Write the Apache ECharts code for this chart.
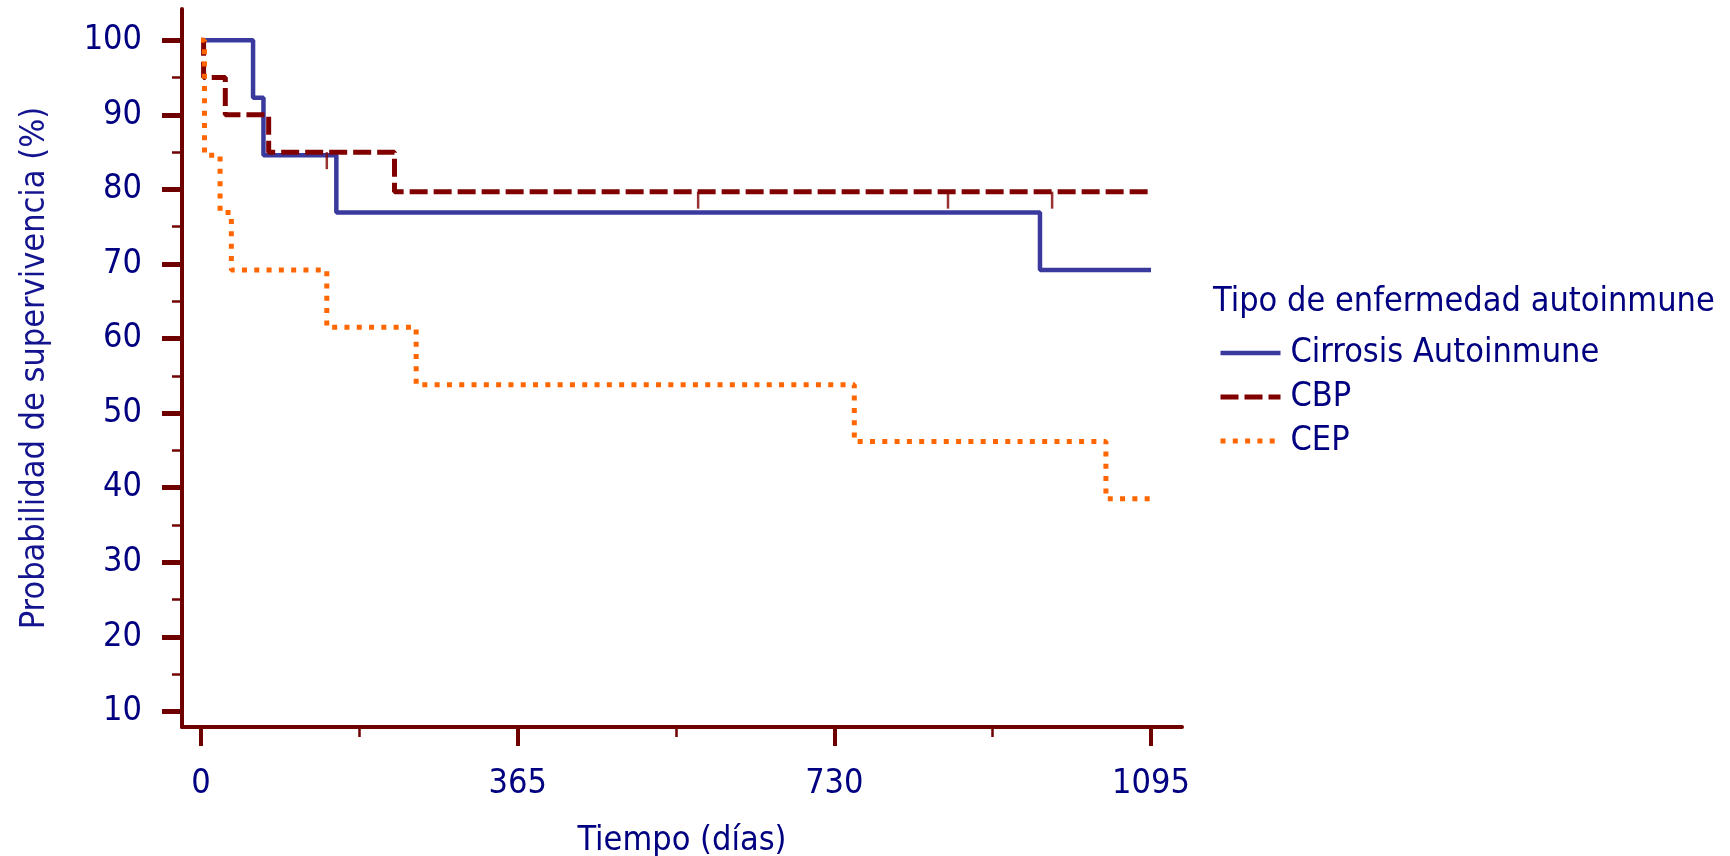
<!DOCTYPE html>
<html><head><meta charset="utf-8">
<script src="https://cdn.jsdelivr.net/npm/echarts@6/dist/echarts.min.js"></script>
<style>html,body{margin:0;padding:0;background:#fff}#c{width:1730px;height:856px}</style>
</head><body><div id="c"></div>
<script>
const seriesNames = ['Cirrosis Autoinmune', 'CBP', 'CEP'];
const cirrosisTimes = [0, 60, 72, 156, 967, 1095];
const cirrosisSurv = [100, 92.3, 84.6, 76.9, 69.2, 69.2];
const cbpTimes = [0, 3, 28, 78, 223, 1095];
const cbpSurv = [100, 95, 90, 85, 79.7, 79.7];
const cepTimes = [0, 4, 22, 35, 145, 248, 753, 1043, 1095];
const cepSurv = [100, 84.6, 76.9, 69.2, 61.5, 53.8, 46.2, 38.5, 38.5];
const cbpCensorTimes = [145, 573, 861, 981];
const cbpCensorSurv = [85, 79.7, 79.7, 79.7];
const xTickValues = [0, 365, 730, 1095];
const xMinorTickValues = [182.5, 547.5, 912.5];
const yTickValues = [10, 20, 30, 40, 50, 60, 70, 80, 90, 100];
const yMinorTickValues = [15, 25, 35, 45, 55, 65, 75, 85, 95];
const legendTitle = 'Tipo de enfermedad autoinmune';
const xTitle = 'Tiempo (días)';
const yTitle = 'Probabilidad de supervivencia (%)';

const FONT = '"DejaVu Sans Condensed", "DejaVu Sans", sans-serif';
const FS = 34;
const TEXT = '#000080';
const AXIS = '#6e0000';
const XMIN = -21.9, XMAX = 1130.7, YMIN = 7.9, YMAX = 104.2;

const zip = (a, b) => a.map((v, i) => [v, b[i]]);
const plain = v => String(v);

const chart = echarts.init(document.getElementById('c'), null, {renderer: 'canvas'});
chart.setOption({
  animation: false,
  backgroundColor: '#fff',
  grid: {left: 182, right: 548, top: 9, bottom: 129, containLabel: false, outerBoundsMode: 'none'},
  xAxis: [{
    type: 'value', min: XMIN, max: XMAX, position: 'bottom',
    name: xTitle, nameLocation: 'middle', nameGap: 97,
    nameTextStyle: {fontFamily: FONT, fontSize: FS, color: TEXT},
    axisLine: {show: true, onZero: false, lineStyle: {color: AXIS, width: 4}},
    axisTick: {show: true, customValues: xTickValues, length: 19, lineStyle: {color: AXIS, width: 4}},
    axisLabel: {customValues: xTickValues, formatter: plain, margin: 40, fontFamily: FONT, fontSize: FS, color: TEXT},
    splitLine: {show: false}
  }, {
    type: 'value', min: XMIN, max: XMAX, position: 'bottom',
    axisLine: {show: false, onZero: false},
    axisTick: {show: true, customValues: xMinorTickValues, length: 10, lineStyle: {color: AXIS, width: 2.5}},
    axisLabel: {show: false},
    splitLine: {show: false}
  }],
  yAxis: [{
    type: 'value', min: YMIN, max: YMAX, position: 'left',
    name: yTitle, nameLocation: 'middle', nameGap: 130, nameRotate: 90,
    nameTextStyle: {fontFamily: FONT, fontSize: FS, color: '#14148f'},
    axisLine: {show: true, onZero: false, lineStyle: {color: AXIS, width: 4}},
    axisTick: {show: true, customValues: yTickValues, length: 20, lineStyle: {color: AXIS, width: 5}},
    axisLabel: {customValues: yTickValues, formatter: plain, margin: 40, fontFamily: FONT, fontSize: FS, color: TEXT},
    splitLine: {show: false}
  }, {
    type: 'value', min: YMIN, max: YMAX, position: 'left',
    axisLine: {show: false, onZero: false},
    axisTick: {show: true, customValues: yMinorTickValues, length: 10, lineStyle: {color: AXIS, width: 2.5}},
    axisLabel: {show: false},
    splitLine: {show: false}
  }],
  legend: {
    data: seriesNames, orient: 'vertical', left: 1213, top: 331,
    itemWidth: 60, itemHeight: 14, itemGap: 10,
    itemStyle: {opacity: 0},
    lineStyle: {width: 'inherit', type: 'inherit', cap: 'butt'},
    textStyle: {fontFamily: FONT, fontSize: FS, color: TEXT, padding: [0, 0, 0, 5]},
    selectedMode: false
  },
  graphic: [{
    type: 'text', left: 1213, top: 285,
    style: {text: legendTitle, font: FS + 'px ' + FONT, fill: TEXT}
  }],
  series: [{
    name: seriesNames[0], type: 'line', step: 'end', symbol: 'none',
    data: zip(cirrosisTimes, cirrosisSurv),
    lineStyle: {color: '#3a3a9e', width: 4.5, cap: 'butt'},
    itemStyle: {color: '#3a3a9e'}
  }, {
    name: seriesNames[1], type: 'line', step: 'end', symbol: 'none',
    data: zip(cbpTimes, cbpSurv),
    lineStyle: {color: '#800000', width: 5, type: [18, 6], cap: 'butt'},
    itemStyle: {color: '#800000'}
  }, {
    name: seriesNames[2], type: 'line', step: 'end', symbol: 'none',
    data: zip(cepTimes, cepSurv),
    lineStyle: {color: '#ff6600', width: 5, type: [5, 7.3], cap: 'butt'},
    itemStyle: {color: '#ff6600'}
  }, {
    name: 'CBP censurado', type: 'scatter',
    data: zip(cbpCensorTimes, cbpCensorSurv),
    symbol: 'rect', symbolSize: [2.5, 17], symbolOffset: [0, 8.5],
    itemStyle: {color: '#800000'}, z: 3
  }]
});
</script></body></html>
